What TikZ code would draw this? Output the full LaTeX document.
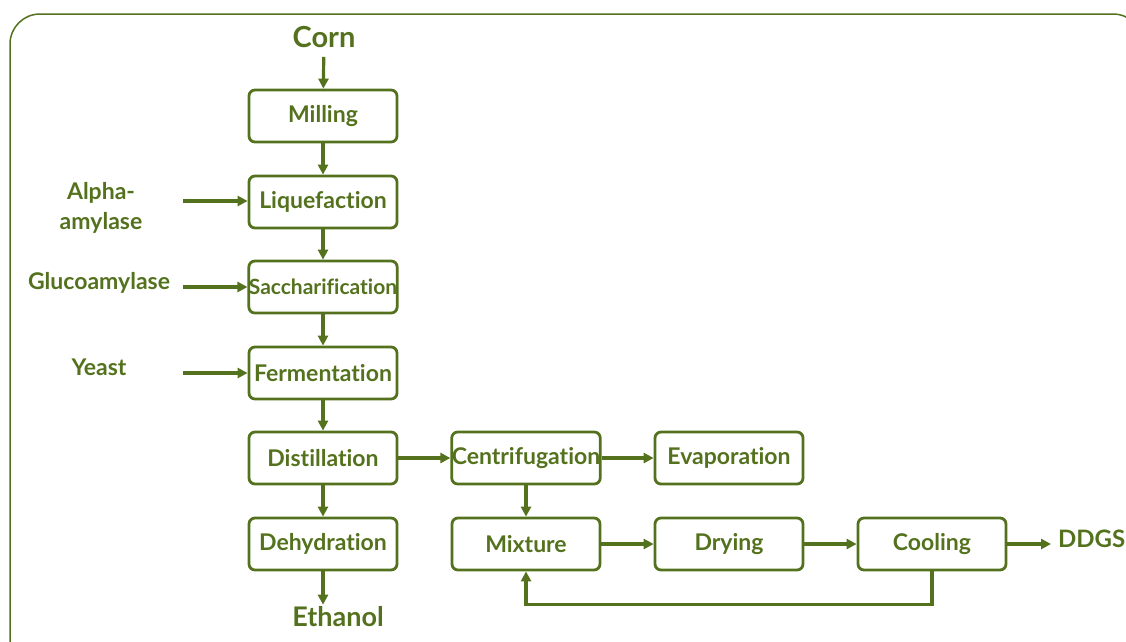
\documentclass[tikz,border=0pt]{standalone}
\usepackage{fontspec}
\setmainfont{Lato}[Ligatures={NoCommon}]
\usetikzlibrary{arrows.meta}
\definecolor{leaf}{RGB}{84,114,30}
\begin{document}
\begin{tikzpicture}[x=1pt,y=-1pt,
  every node/.style={font=\bfseries\fontsize{23}{28}\selectfont, text=leaf},
  box/.style={draw=leaf, line width=2.8pt, rounded corners=6pt, minimum width=148pt, minimum height=52pt, inner sep=0pt},
  arr/.style={draw=leaf, line width=3.2pt, -{Triangle[length=10pt,width=10pt]}},
  frame/.style={draw=leaf, line width=1.5pt, rounded corners=30pt}]
\useasboundingbox (0,0) rectangle (1126,641);
\clip (0,0) rectangle (1126,641);
\draw[frame] (10,14) rectangle (1143,720);
% column 1
\node[font=\bfseries\fontsize{29}{34}\selectfont, inner ysep=9pt] (corn) at (324,37) {Corn};
\node[box] (mill) at (323,116) {Milling};
\node[box] (liq) at (323,202) {Liquefaction};
\node[box, font=\bfseries\fontsize{21}{24}\selectfont] (sac) at (323,287) {Saccharification};
\node[box] (fer) at (323,373) {Fermentation};
\node[box] (dis) at (323,458) {Distillation};
\node[box] (deh) at (323,544) {Dehydration};
\node[font=\bfseries\fontsize{27}{32}\selectfont, inner ysep=2pt] (eth) at (338,617) {Ethanol};
% other columns
\node[box] (cen) at (526,458) {Centrifugation};
\node[box] (eva) at (729,458) {Evaporation};
\node[box] (mix) at (526,544) {Mixture};
\node[box] (dry) at (729,544) {Drying};
\node[box] (cool) at (932,544) {Cooling};
\node[font=\bfseries\fontsize{24}{28}\selectfont, inner xsep=7pt, anchor=west] (ddgs) at (1051,539) {DDGS};
% inputs
\node[align=center, font=\bfseries\fontsize{23}{30}\selectfont] (alpha) at (101,208) {Alpha-\\amylase};
\node (gluco) at (99,283) {Glucoamylase};
\node (yeast) at (99,367) {Yeast};
\coordinate (ia) at (183,201);
\coordinate (ig) at (183,287);
\coordinate (iy) at (183,373);
% arrows
\draw[arr] (corn) -- (mill);
\draw[arr] (mill) -- (liq);
\draw[arr] (liq) -- (sac);
\draw[arr] (sac) -- (fer);
\draw[arr] (fer) -- (dis);
\draw[arr] (dis) -- (deh);
\draw[arr] (deh.south) -- (deh.south |- eth.north);
\draw[arr] (ia) -- (ia -| liq.west);
\draw[arr] (ig) -- (ig -| sac.west);
\draw[arr] (iy) -- (iy -| fer.west);
\draw[arr] (dis) -- (cen);
\draw[arr] (cen) -- (eva);
\draw[arr] (cen) -- (mix);
\draw[arr] (mix) -- (dry);
\draw[arr] (dry) -- (cool);
\draw[arr] (cool.east) -- (cool.east -| ddgs.west);
\draw[arr] (cool.south) -- ++(0,33) -| (mix.south);
\end{tikzpicture}
\end{document}
